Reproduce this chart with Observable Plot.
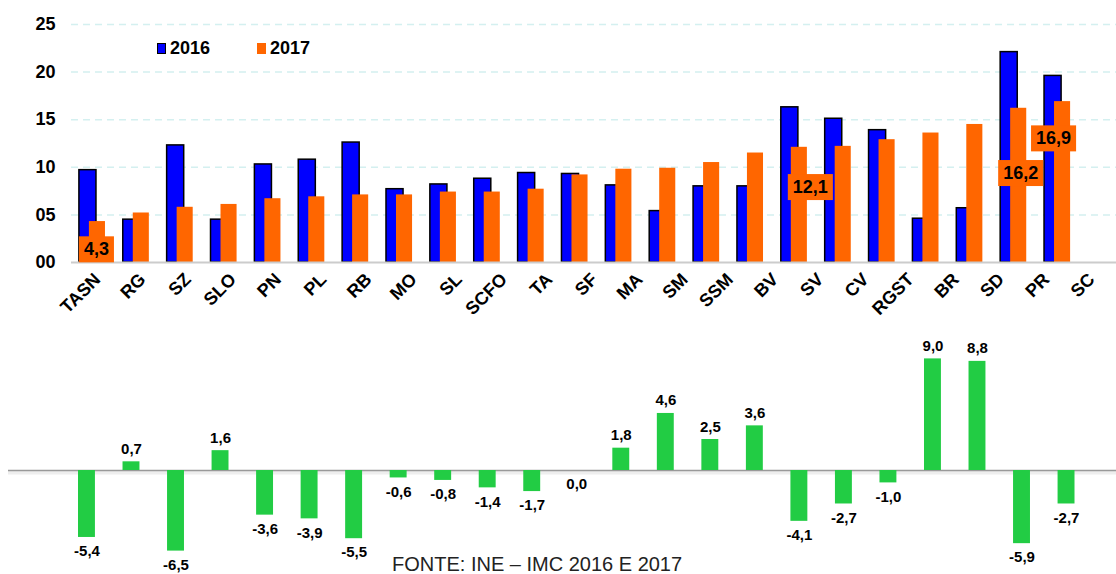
<!DOCTYPE html>
<html><head><meta charset="utf-8">
<script src="https://cdn.jsdelivr.net/npm/d3@7"></script>
<script src="https://cdn.jsdelivr.net/npm/@observablehq/plot@0.6"></script>
<style>
body{margin:0;background:#fff;font-family:"Liberation Sans",Arial,sans-serif;}
#wrap{position:relative;width:1116px;height:574px;overflow:hidden;}
#topc{position:absolute;left:0;top:0;}
#axc{position:absolute;left:0;top:261px;}
#botc{position:absolute;left:0;top:330px;}
.leg{position:absolute;top:38px;font:bold 18px "Liberation Sans",Arial,sans-serif;color:#000;display:flex;align-items:center;}
.sw{display:inline-block;width:9px;height:11px;margin-right:4px;box-sizing:border-box;}
#foot{position:absolute;left:392px;top:554px;font:20px/20px "Liberation Sans",Arial,sans-serif;color:#222;white-space:nowrap;}
</style></head>
<body><div id="wrap"><div id="topc"></div><div id="botc"></div><div id="axc"></div>
<div class="leg" style="left:157px"><span class="sw" style="background:#0000ff;border:1px solid #000"></span>2016</div>
<div class="leg" style="left:257px"><span class="sw" style="background:#ff6600"></span>2017</div>
<div id="foot">FONTE: INE – IMC 2016 E 2017</div>
</div>
<script>
const categories = ["TASN","RG","SZ","SLO","PN","PL","RB","MO","SL","SCFO","TA","SF","MA","SM","SSM","BV","SV","CV","RGST","BR","SD","PR","SC"];
const values2016 = [9.7,4.5,12.3,4.5,10.3,10.8,12.6,7.7,8.2,8.8,9.4,9.3,8.1,5.4,8.0,8.0,16.3,15.1,13.9,4.6,5.7,22.1,19.6];
const values2017 = [4.3,5.2,5.8,6.1,6.7,6.9,7.1,7.1,7.4,7.4,7.7,9.2,9.8,9.9,10.5,11.5,12.1,12.2,12.9,13.6,14.5,16.2,16.9];
const differences = [-5.4,0.7,-6.5,1.6,-3.6,-3.9,-5.5,-0.6,-0.8,-1.4,-1.7,0.0,1.8,4.6,2.5,3.6,-4.1,-2.7,-1.0,9.0,8.8,-5.9,-2.7];
const yTicks = [0,5,10,15,20,25];
const labelled = ["TASN","SV","PR","SC"];

const fmt = v => v.toFixed(1).replace(".", ",");
const d16 = categories.map((c,i)=>({c, v: values2016[i]}));
const d17 = categories.map((c,i)=>({c, v: values2017[i]}));
const dd = categories.map((c,i)=>({c, v: differences[i]}));
const F = '"Liberation Sans",Arial,sans-serif';

// label box offsets (pixels) relative to orange bar top
const off = {TASN:[4,28], SV:[16,40], PR:[7,65], SC:[-4,37]};
const labelMarks = labelled.map(c => Plot.text(d17.filter(d=>d.c===c), {
  x:"c", y:"v", text: d=>fmt(d.v), dx: off[c][0], dy: off[c][1],
  fontSize: 18, fontWeight: "bold", fill: "#000", className: "boxlab"
}));

const topChart = Plot.plot({
  width: 1116, height: 330,
  marginLeft: 71, marginRight: 0, marginTop: 24, marginBottom: 68,
  style: {fontFamily: F, background: "transparent"},
  x: {type: "band", domain: categories, range: [70, 1079], padding: 0, round: false, axis: null},
  y: {domain: [0,25], label: null},
  marks: [
    Plot.ruleY(yTicks.filter(t=>t>0), {stroke:"#d4f0f0", strokeWidth:1.5, strokeDasharray:"7,5"}),
    Plot.barY(d16, {x:"c", y:"v", fill:"#0000ff", stroke:"#000", strokeWidth:1.5, insetLeft:8.9, insetRight:17.9}),
    Plot.barY(d17, {x:"c", y:"v", fill:"#ff6600", insetLeft:18.9, insetRight:8.9}),
    Plot.ruleY([0], {stroke:"#cccccc", strokeWidth:2}),
    Plot.axisY({ticks: yTicks, tickFormat: d=>String(d).padStart(2,"0"), tickSize:0, tickPadding:16, fontSize:18, fontWeight:"bold", label:null}),
    ...labelMarks
  ]
});
document.getElementById("topc").appendChild(topChart);
// orange boxes behind the value labels
Array.from(topChart.querySelectorAll("g")).filter(g => (g.getAttribute("class")||"").includes("boxlab")).forEach(g => {
  g.querySelectorAll("text").forEach(t => {
    const b = t.getBBox();
    const r = document.createElementNS("http://www.w3.org/2000/svg","rect");
    const w = b.width + 10, h = 26;
    r.setAttribute("x", b.x + b.width/2 - w/2);
    r.setAttribute("y", b.y + b.height/2 - h/2);
    r.setAttribute("width", w); r.setAttribute("height", h);
    r.setAttribute("fill", "#ff6600");
    const tr = t.getAttribute("transform");
    if (tr) r.setAttribute("transform", tr);
    t.parentNode.insertBefore(r, t);
  });
});

// category axis (the reference spaces its labels slightly wider than its bars)
const axisChart = Plot.plot({
  width: 1116, height: 70,
  marginLeft: 0, marginRight: 0, marginTop: 0, marginBottom: 69,
  style: {fontFamily: F, background: "transparent", overflow: "visible"},
  x: {type: "band", domain: categories, range: [72.4, 1111.6], padding: 0, round: false, label: null},
  marks: [
    Plot.axisX({tickSize:0, tickPadding:14, tickRotate:-45, fontSize:18, fontWeight:"bold", dx:2, label:null})
  ]
});
document.getElementById("axc").appendChild(axisChart);

const botChart = Plot.plot({
  width: 1116, height: 244,
  marginLeft: 8, marginRight: 0, marginTop: 0, marginBottom: 0,
  style: {fontFamily: F, background: "transparent"},
  x: {type: "band", domain: categories, range: [64.2, 1088.3], padding: 0, round: false, axis: null},
  y: {domain: [-8, 10], range: [239.2, 16], axis: null},
  marks: [
    Plot.ruleY([0], {stroke:"#eeeeee", strokeWidth:4, dy:2}),
    Plot.ruleY([0], {stroke:"#999999", strokeWidth:1.5}),
    Plot.barY(dd, {x:"c", y:"v", fill:"#22cc44", insetLeft:13.8, insetRight:13.8}),
    Plot.text(dd.filter(d=>d.v>0), {x:"c", y:"v", text:d=>fmt(d.v), dy:-8, lineAnchor:"bottom", fontSize:15, fontWeight:"bold", fill:"#000"}),
    Plot.text(dd.filter(d=>d.v<=0), {x:"c", y:"v", text:d=>fmt(d.v), dy:8, lineAnchor:"top", fontSize:15, fontWeight:"bold", fill:"#000"})
  ]
});
document.getElementById("botc").appendChild(botChart);
</script></body></html>
